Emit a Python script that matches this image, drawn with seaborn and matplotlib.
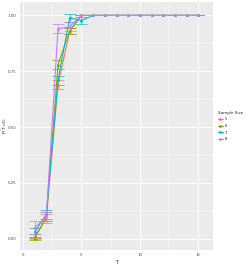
import numpy as np
import pandas as pd
import matplotlib
matplotlib.use("Agg")
import matplotlib.pyplot as plt
import seaborn as sns

# values
t_values = list(range(1, 16))
size_labels = ["5", "6", "7", "8"]
p_size5 = [0.01, 0.09, 0.69, 0.93, 1.0, 1, 1, 1, 1, 1, 1, 1, 1, 1, 1]
p_size6 = [0.00, 0.10, 0.78, 0.93, 1.0, 1, 1, 1, 1, 1, 1, 1, 1, 1, 1]
p_size7 = [0.03, 0.11, 0.71, 0.99, 0.977, 1, 1, 1, 1, 1, 1, 1, 1, 1, 1]
p_size8 = [0.05, 0.10, 0.94, 0.95, 1.0, 1, 1, 1, 1, 1, 1, 1, 1, 1, 1]
err_size5 = [0.01, 0.02, 0.02, 0.015, 0, 0, 0, 0, 0, 0, 0, 0, 0, 0, 0]
err_size6 = [0.005, 0.02, 0.02, 0.015, 0, 0, 0, 0, 0, 0, 0, 0, 0, 0, 0]
err_size7 = [0.02, 0.02, 0.02, 0.018, 0.014, 0, 0, 0, 0, 0, 0, 0, 0, 0, 0]
err_size8 = [0.03, 0.02, 0.02, 0.02, 0, 0, 0, 0, 0, 0, 0, 0, 0, 0, 0]

colors = ["#F8766D", "#7CAE00", "#00BFC4", "#C77CFF"]

frames = []
for lab, p, e in zip(size_labels,
                     [p_size5, p_size6, p_size7, p_size8],
                     [err_size5, err_size6, err_size7, err_size8]):
    frames.append(pd.DataFrame({"T": t_values, "P": p, "err": e, "Sample Size": lab}))
df = pd.concat(frames, ignore_index=True)

sns.set_theme(style="darkgrid", rc={
    "axes.facecolor": "#EBEBEB",
    "grid.color": "white",
    "grid.linewidth": 0.6,
})
plt.rcParams["font.family"] = ["DejaVu Sans"]

fig = plt.figure(figsize=(2.49, 2.64), dpi=100)
ax = fig.add_axes([20 / 249, 1 - 250 / 264, 193 / 249, 248 / 264])

for lab, c in zip(size_labels, colors):
    d = df[df["Sample Size"] == lab]
    ax.errorbar(d["T"], d["P"], yerr=d["err"], fmt="none", ecolor=c,
                elinewidth=0.6, capsize=4.3, capthick=0.6, alpha=0.8)

sns.lineplot(data=df, x="T", y="P", hue="Sample Size", palette=colors,
             marker="o", markersize=2, markeredgewidth=0, linewidth=0.8,
             ax=ax, errorbar=None)

ax.set_xlim(-0.25, 16.25)
ax.set_ylim(-0.05, 1.06)
ax.set_xticks([0, 5, 10, 15])
ax.set_xticks([2.5, 7.5, 12.5], minor=True)
ax.set_yticks([0, 0.25, 0.5, 0.75, 1.0])
ax.set_yticks([0.125, 0.375, 0.625, 0.875], minor=True)
ax.set_yticklabels(["0.00", "0.25", "0.50", "0.75", "1.00"])
ax.grid(which="minor", color="white", linewidth=0.3)
ax.tick_params(labelsize=2.8, length=1.5, width=0.4, color="#333333", pad=1,
               labelcolor="#4D4D4D")
ax.tick_params(which="minor", length=0)
for s in ax.spines.values():
    s.set_visible(False)
ax.set_xlabel("T", fontsize=3.5, labelpad=1.5)
ax.set_ylabel("P($\\hat{T}$=3)", fontsize=3.2)
ax.yaxis.set_label_coords(-0.058, 0.5)

leg = ax.legend(title="Sample Size", loc="center left", bbox_to_anchor=(1.01, 0.5),
                frameon=False, fontsize=2.8, title_fontsize=3.0, handlelength=1.3,
                handletextpad=0.5, labelspacing=0.7, borderpad=0.2)
leg._legend_box.align = "left"

fig.savefig("out.png", dpi=100)
